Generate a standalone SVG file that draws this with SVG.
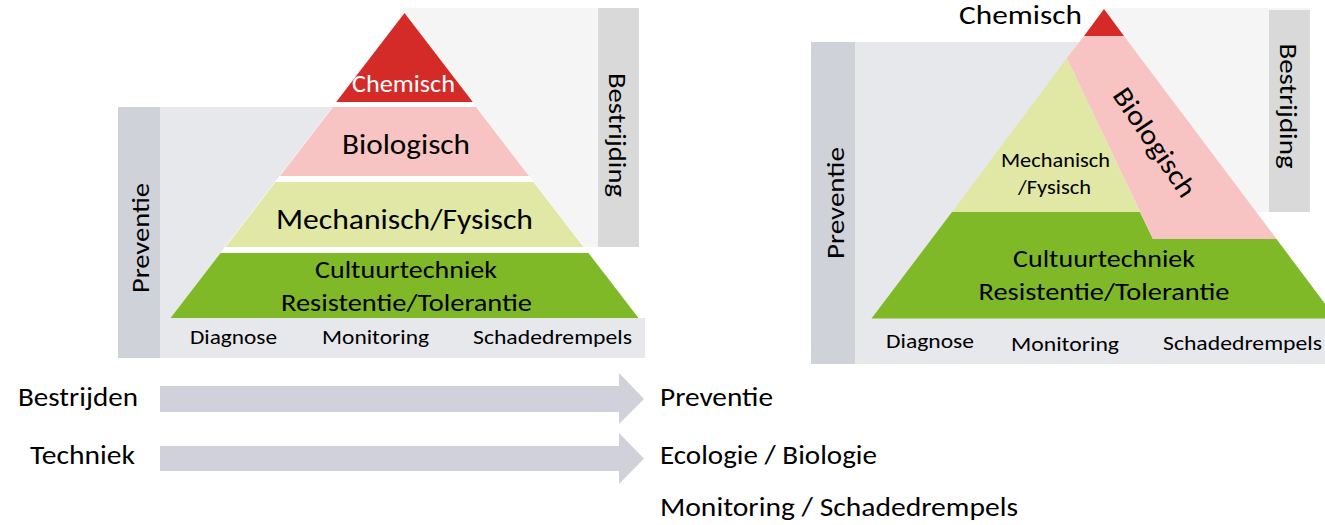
<svg xmlns="http://www.w3.org/2000/svg" width="1325" height="525" viewBox="0 0 1325 525">
<style>
text{font-family:Carlito,Lato,"Liberation Sans",sans-serif;fill:#000}
.w{fill:#fff}
.red{fill:#d52b28}.pink{fill:#f7c4c3}.lg{fill:#e1e8a6}.gr{fill:#80b927}
.bgp{fill:#e7e8ec}.bgb{fill:#f5f5f5}.barp{fill:#d0d2da}.barb{fill:#d9d9d9}
.arr{fill:#d0d1da}
</style>
<rect width="1325" height="525" fill="#fff"/>
<g id="left-pyramid">
  <rect class="bgb" x="400" y="8" width="198" height="239"/>
  <rect class="bgp" x="160" y="107" width="245" height="212"/>
  <rect class="bgp" x="160" y="318" width="485" height="40"/>
  <rect class="barp" x="118" y="107" width="42" height="251"/>
  <rect class="barb" x="598" y="8" width="41" height="239"/>
  <polygon fill="#fff" points="404.5,13 638.5,318 170.5,318"/>
  <polygon class="red" points="404.5,13 472.8,102 336.2,102"/>
  <polygon class="pink" points="333,107 476,107 529,176 280,176"/>
  <polygon class="lg" points="275.5,182 533.5,182 583.5,247 225.5,247"/>
  <polygon class="gr" points="220.5,253 588.5,253 638.5,318 170.5,318"/>
  <text class="w" x="352" y="92" font-size="24" textLength="103" lengthAdjust="spacingAndGlyphs">Chemisch</text>
  <text x="342" y="154" font-size="28" textLength="128" lengthAdjust="spacingAndGlyphs">Biologisch</text>
  <text x="276" y="229" font-size="28" textLength="257" lengthAdjust="spacingAndGlyphs">Mechanisch/Fysisch</text>
  <text x="315" y="278" font-size="25" textLength="182" lengthAdjust="spacingAndGlyphs">Cultuurtechniek</text>
  <text x="281" y="311" font-size="25" textLength="251" lengthAdjust="spacingAndGlyphs">Resistentie/Tolerantie</text>
  <text x="190" y="344" font-size="21" textLength="87" lengthAdjust="spacingAndGlyphs">Diagnose</text>
  <text x="322" y="344" font-size="21" textLength="107" lengthAdjust="spacingAndGlyphs">Monitoring</text>
  <text x="473" y="344" font-size="21" textLength="159" lengthAdjust="spacingAndGlyphs">Schadedrempels</text>
  <text transform="translate(149,238) rotate(-90)" text-anchor="middle" font-size="25" textLength="110" lengthAdjust="spacingAndGlyphs">Preventie</text>
  <text transform="translate(609,135) rotate(90)" text-anchor="middle" font-size="25.5" textLength="124" lengthAdjust="spacingAndGlyphs">Bestrijding</text>
</g>
<g id="right-pyramid">
  <rect class="bgp" x="855" y="42" width="250" height="277"/>
  <rect class="bgp" x="855" y="318" width="470" height="46"/>
  <rect class="bgb" x="1104" y="8" width="206" height="204"/>
  <rect class="barp" x="811" y="42" width="44" height="322"/>
  <rect class="barb" x="1269" y="10" width="41" height="202"/>
  <polygon class="gr" points="952,212 1140,212 1153,239 1276.5,239 1336,318.5 871.5,318.5"/>
  <polygon class="lg" points="1067,58 1140,212 952,212"/>
  <polygon class="pink" points="1084,36 1124,36 1276.5,239 1153,239 1067,58"/>
  <polygon class="red" points="1104,9 1124,36 1084,36"/>
  <text x="959" y="24" font-size="27" textLength="123" lengthAdjust="spacingAndGlyphs">Chemisch</text>
  <text x="1001" y="167" font-size="20" textLength="109" lengthAdjust="spacingAndGlyphs">Mechanisch</text>
  <text x="1018" y="194" font-size="20" textLength="73" lengthAdjust="spacingAndGlyphs">/Fysisch</text>
  <text transform="translate(1147,147.5) rotate(56)" text-anchor="middle" font-size="28" textLength="126" lengthAdjust="spacingAndGlyphs">Biologisch</text>
  <text x="1013" y="267" font-size="25" textLength="182" lengthAdjust="spacingAndGlyphs">Cultuurtechniek</text>
  <text x="978.5" y="300" font-size="25" textLength="251" lengthAdjust="spacingAndGlyphs">Resistentie/Tolerantie</text>
  <text x="886" y="348" font-size="21" textLength="88" lengthAdjust="spacingAndGlyphs">Diagnose</text>
  <text x="1011" y="351" font-size="21" textLength="108" lengthAdjust="spacingAndGlyphs">Monitoring</text>
  <text x="1163" y="350" font-size="21" textLength="159" lengthAdjust="spacingAndGlyphs">Schadedrempels</text>
  <text transform="translate(843.5,203) rotate(-90)" text-anchor="middle" font-size="25" textLength="112" lengthAdjust="spacingAndGlyphs">Preventie</text>
  <text transform="translate(1280,106) rotate(90)" text-anchor="middle" font-size="25.5" textLength="125" lengthAdjust="spacingAndGlyphs">Bestrijding</text>
</g>
<g id="labels-from">
  <text x="18" y="406" font-size="26" textLength="120" lengthAdjust="spacingAndGlyphs">Bestrijden</text>
  <text x="30" y="464" font-size="26" textLength="105" lengthAdjust="spacingAndGlyphs">Techniek</text>
</g>
<g id="labels-to">
  <text x="660" y="406" font-size="26" textLength="113" lengthAdjust="spacingAndGlyphs">Preventie</text>
  <text x="660" y="464" font-size="26" textLength="217" lengthAdjust="spacingAndGlyphs">Ecologie / Biologie</text>
  <text x="660" y="516" font-size="26" textLength="358" lengthAdjust="spacingAndGlyphs">Monitoring / Schadedrempels</text>
</g>
<g id="connectors">
  <polygon class="arr" points="160,386 619,386 619,373 644,399 619,424 619,412 160,412"/>
  <polygon class="arr" points="160,446 619,446 619,433 644,458.5 619,484 619,471 160,471"/>
</g>
</svg>
